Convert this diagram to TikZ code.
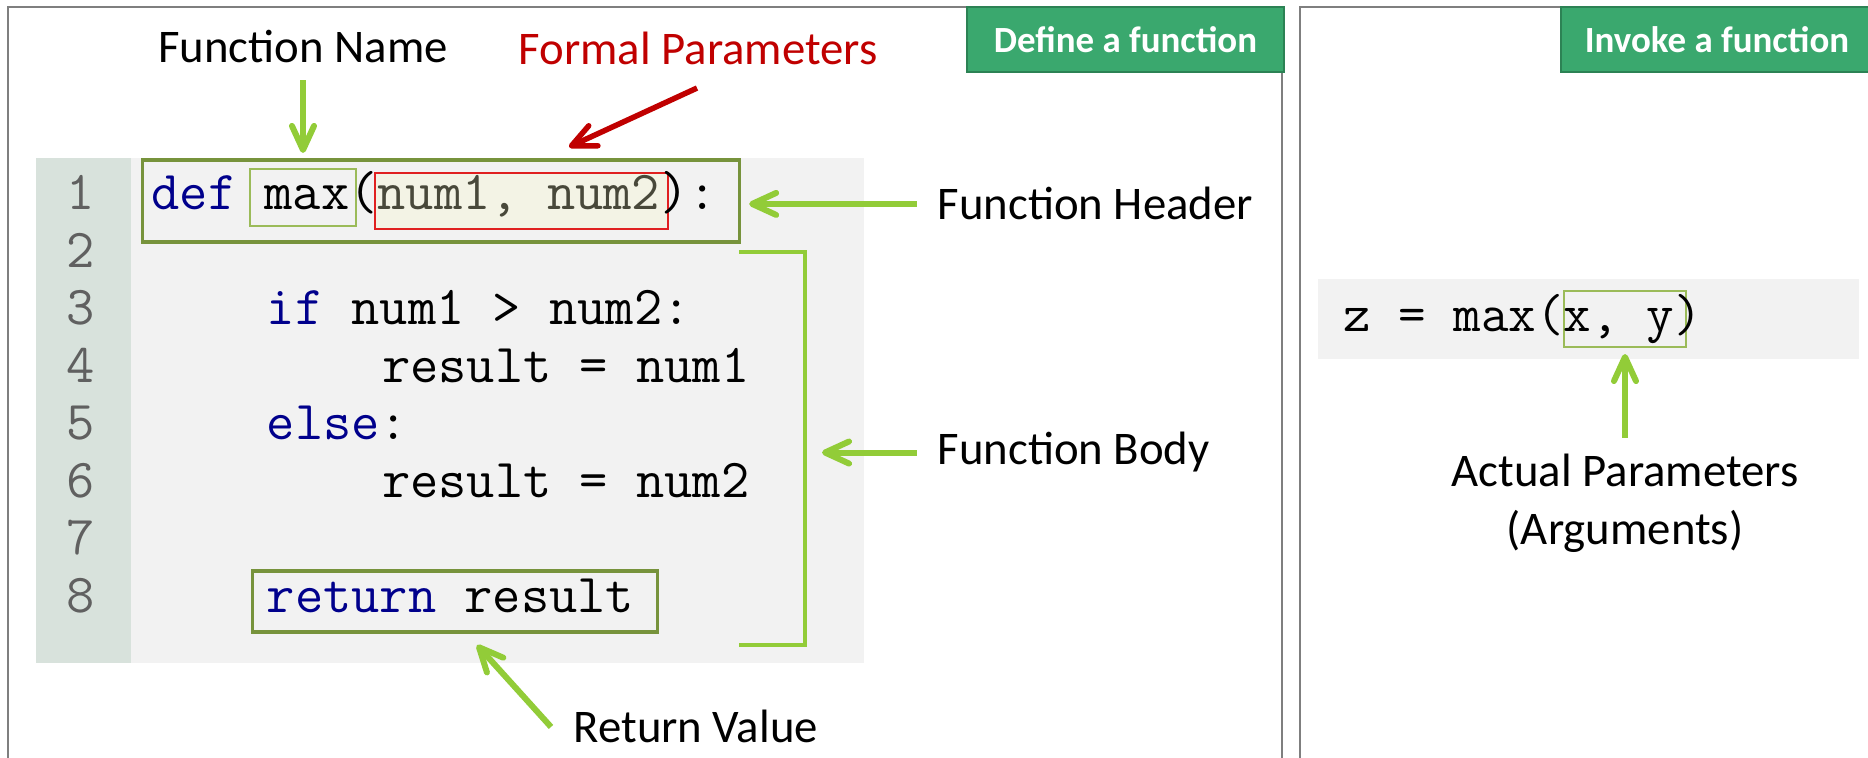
\documentclass[tikz,border=0pt]{standalone}
\usepackage{fontspec}
\setmainfont{Carlito}
\usetikzlibrary{arrows.meta, positioning, calc}
\definecolor{cPanel}{RGB}{127,127,127}
\definecolor{cTag}{RGB}{58,168,110}
\definecolor{cTagEdge}{RGB}{44,130,84}
\definecolor{cCode}{RGB}{242,242,242}
\definecolor{cGutter}{RGB}{216,226,220}
\definecolor{cLnum}{RGB}{96,96,96}
\definecolor{cKey}{RGB}{0,0,140}
\definecolor{cOlive}{RGB}{119,147,60}
\definecolor{cLime}{RGB}{146,204,56}
\definecolor{cThin}{RGB}{155,187,89}
\definecolor{cRed}{RGB}{192,0,0}
\definecolor{cBoxRed}{RGB}{224,32,32}
\definecolor{cCream}{RGB}{243,243,229}
\definecolor{cArg}{RGB}{72,72,58}
\tikzset{
	panel/.style   ={draw=cPanel, line width=0.7pt},
	tagbox/.style  ={rectangle, draw=cTagEdge, line width=0.6pt, fill=cTag, text=white, minimum height=0.65cm, inner sep=0pt, outer sep=0pt, font=\fontsize{10.5}{12}\selectfont\bfseries},
	lbl/.style     ={inner sep=0pt, font=\fontsize{13.3}{16.5}\selectfont},
	codeln/.style  ={inner sep=0pt, anchor=base west, font=\fontsize{15.6}{18}\selectfont\ttfamily},
	lnum/.style    ={inner sep=0pt, anchor=base, text=cLnum, font=\fontsize{15.6}{18}\selectfont\ttfamily},
	% boxes round parts of the code
	hdrframe/.style={rectangle, draw=cOlive, line width=0.9pt, inner sep=0pt, outer sep=0pt},
	thinbox/.style ={rectangle, draw=cThin, line width=0.45pt, inner sep=0pt, outer sep=0pt},
	redbox/.style  ={rectangle, draw=cBoxRed, fill=cCream, line width=0.45pt, inner sep=0pt, outer sep=0pt},
	garrow/.style  ={draw=cLime, line width=0.06cm, -{Straight Barb[length=0.24cm, width=0.22cm, round]}},
	rarrow/.style  ={draw=cRed, line width=0.055cm, -{Straight Barb[length=0.24cm, width=0.22cm, round]}},
}
\begin{document}
\begin{tikzpicture}[x=0.01cm, y=-0.01cm]
	\useasboundingbox (0,0) rectangle (1868,758);
	\fill[white] (0,0) rectangle (1868,758);
	% panels
	\draw[panel] (8,758) -- (8,7) -- (1282,7) -- (1282,758);
	\draw[panel] (1300,758) -- (1300,7) -- (1868,7);
	\node[tagbox, minimum width=3.17cm] (deftag) at (1125.5,39.5) {Define a function};
	\node[tagbox, minimum width=3.12cm] (invtag) at (1717,39.5) {Invoke a function};
	% definition listing
	\fill[cCode] (36,158) rectangle (864,663);
	\fill[cGutter] (36,158) rectangle (131,663);
	\foreach \n in {1,...,8}
		\node[lnum] (ln\n) at (81,{152.5+57.5*\n}) {\n};
	\node[hdrframe, minimum width=5.96cm, minimum height=0.82cm] (hdrbox) at (441,201) {};
	\node[thinbox, minimum width=1.06cm, minimum height=0.57cm] (maxbox) at (303,197.5) {};
	\node[redbox, minimum width=2.93cm, minimum height=0.56cm] (numbox) at (521.5,201) {};
	\node[hdrframe, minimum width=4.04cm, minimum height=0.61cm] (retbox) at (455,601.5) {};
	\node[codeln] (c1) at (151,210) {\textcolor{cKey}{def} max(\textcolor{cArg}{num1, num2}):};
	\node[codeln] (c3) at (266.2,325) {\textcolor{cKey}{if} num1 > num2:};
	\node[codeln] (c4) at (381.4,382.5) {result = num1};
	\node[codeln] (c5) at (266.2,440) {\textcolor{cKey}{else}:};
	\node[codeln] (c6) at (381.4,497.5) {result = num2};
	\node[codeln] (c8) at (266.2,612.5) {\textcolor{cKey}{return} result};
	% body bracket
	\draw[cLime, line width=0.045cm] (739,252) -- (805,252) -- (805,645) -- (739,645);
	\coordinate (brk) at (805,450);
	% labels
	\node[lbl, anchor=base] (namelbl) at (303,63) {Function Name};
	\node[lbl, anchor=base, text=cRed] (parlbl) at (698,65) {Formal Parameters};
	\node[lbl, anchor=base west] (hdrlbl) at (937,220) {Function Header};
	\node[lbl, anchor=base west] (bodylbl) at (937,465) {Function Body};
	\node[lbl, anchor=base west] (retlbl) at (573,743) {Return Value};
	\draw[garrow, shorten <=0.16cm, shorten >=0.16cm] (namelbl.south) -- (maxbox.north);
	\draw[rarrow] ($(parlbl.south)+(-1,22)$) -- ($(numbox.north)+(47.5,-26)$);
	\draw[garrow, shorten <=0.2cm, shorten >=0.1cm] (hdrlbl.west) -- (hdrlbl.west -| hdrbox.east);
	\draw[garrow, shorten <=0.2cm, shorten >=0.17cm] (bodylbl.west) -- (bodylbl.west -| brk);
	\draw[garrow] ($(retlbl.west)+(-22,0)$) -- ($(retbox.south)+(22,13)$);
	% call listing
	\fill[cCode] (1318,279) rectangle (1859,359);
	\node[thinbox, minimum width=1.22cm, minimum height=0.56cm] (xybox) at (1625,319) {};
	\node[codeln, font=\fontsize{15.2}{18}\selectfont\ttfamily] (call) at (1343,332) {z = max(x, y)};
	\node[lbl, anchor=north, align=center] (arglbl) at (1625,453) {Actual Parameters\\(Arguments)};
	\draw[garrow, shorten <=0.15cm, shorten >=0.07cm] (arglbl.north) -- (xybox.south);
\end{tikzpicture}
\end{document}
